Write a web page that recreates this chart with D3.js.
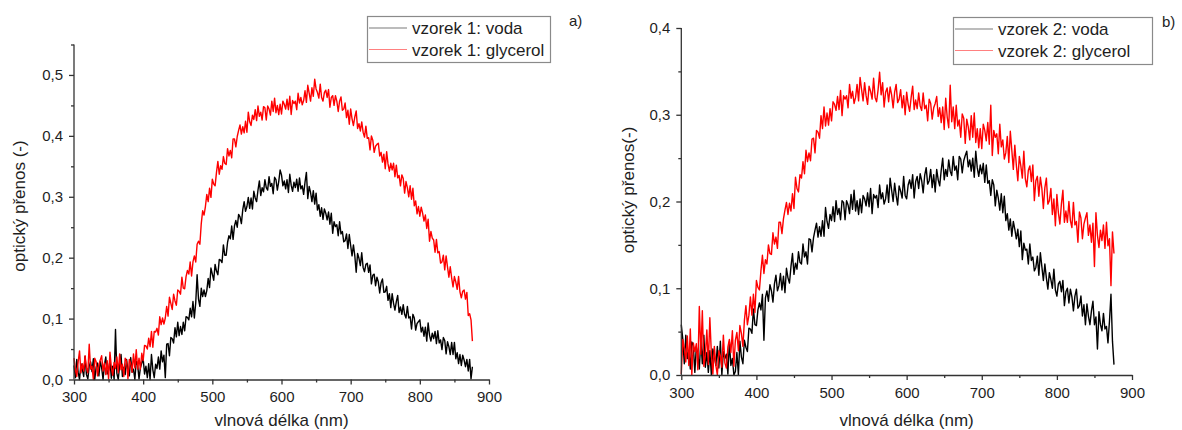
<!DOCTYPE html>
<html><head><meta charset="utf-8">
<script src="https://cdn.jsdelivr.net/npm/d3@7"></script>
<style>
body{margin:0;background:#fff}
svg{display:block}
text{font-family:"Liberation Sans",Arial,sans-serif;fill:#1e1e1e}
</style>
</head><body>
<svg id="chart" width="1182" height="430"></svg>
<script>
// sampling grid of the spectra (nm), 2 nm steps
const wavelength = d3.range(300, 877, 2);

const sample1Water = [
.023,.003,.033,.012,.000,.026,.017,.005,.038,.008,
.001,.022,.029,.013,.034,.000,.020,.027,.006,.030,
.019,.000,.024,.037,.009,.015,.031,.002,.022,.000,
.082,.010,.000,.023,.041,.005,.020,.008,.033,.013,
.006,.036,.012,.017,.000,.030,.024,.001,.019,.027,
.034,.009,.022,.003,.026,.000,.041,.016,.003,.025,
.018,.037,.017,.047,.029,.040,.003,.058,.059,.039,
.069,.067,.060,.085,.070,.094,.072,.087,.074,.094,
.080,.103,.102,.098,.117,.103,.128,.101,.126,.172,
.132,.120,.150,.136,.147,.136,.146,.166,.151,.183,
.173,.163,.189,.178,.172,.197,.196,.192,.221,.204,
.204,.225,.236,.231,.252,.230,.252,.261,.250,.271,
.267,.256,.279,.292,.276,.284,.299,.281,.298,.280,
.309,.298,.292,.311,.326,.302,.315,.308,.328,.315,
.311,.333,.317,.322,.305,.332,.328,.311,.325,.344,
.336,.318,.326,.313,.328,.307,.337,.319,.309,.324,
.315,.329,.309,.331,.313,.318,.304,.324,.340,.297,
.317,.307,.292,.310,.288,.306,.278,.287,.268,.282,
.263,.280,.273,.262,.275,.255,.273,.240,.259,.251,
.254,.236,.259,.239,.243,.226,.228,.239,.215,.238,
.220,.203,.221,.203,.176,.207,.199,.187,.208,.184,
.177,.189,.191,.176,.188,.157,.171,.173,.154,.168,
.160,.142,.159,.165,.143,.144,.153,.130,.141,.118,
.141,.125,.114,.128,.138,.110,.119,.107,.123,.107,
.101,.120,.101,.103,.083,.107,.101,.081,.092,.095,
.098,.078,.086,.071,.086,.063,.093,.073,.063,.076,
.067,.079,.059,.080,.060,.065,.049,.069,.064,.042,
.062,.054,.041,.061,.041,.061,.034,.044,.026,.041,
.023,.040,.032,.021,.033,.014,.033,.001,.021];

const sample1Glycerol = [
.035,.016,.005,.029,.047,.011,.026,.014,.039,.019,
.011,.058,.017,.022,.000,.035,.029,.006,.024,.032,
.039,.014,.027,.008,.031,.001,.045,.020,.007,.028,
.018,.037,.011,.042,.016,.025,.005,.035,.030,.001,
.033,.026,.012,.042,.019,.049,.017,.035,.017,.043,
.031,.056,.055,.050,.068,.054,.079,.053,.079,.078,
.084,.073,.103,.090,.101,.091,.101,.120,.104,.135,
.125,.115,.140,.129,.122,.147,.145,.140,.168,.150,
.149,.169,.179,.173,.193,.170,.193,.203,.193,.222,
.227,.222,.256,.277,.270,.284,.304,.292,.314,.299,
.329,.321,.318,.340,.358,.337,.351,.345,.366,.355,
.353,.379,.367,.376,.364,.395,.395,.382,.399,.409,
.418,.403,.415,.405,.424,.406,.439,.423,.417,.434,
.427,.443,.425,.449,.432,.439,.426,.448,.446,.426,
.449,.444,.434,.457,.440,.462,.438,.450,.435,.452,
.436,.457,.452,.444,.460,.443,.465,.435,.458,.453,
.457,.443,.470,.454,.463,.451,.458,.474,.455,.483,
.470,.457,.479,.465,.493,.477,.471,.462,.485,.463,
.457,.471,.475,.463,.476,.447,.463,.466,.450,.466,
.457,.440,.457,.464,.442,.444,.454,.430,.442,.419,
.444,.428,.417,.431,.441,.412,.420,.408,.423,.406,
.398,.416,.396,.397,.377,.400,.393,.373,.383,.386,
.388,.367,.373,.357,.370,.346,.374,.354,.342,.355,
.344,.355,.333,.352,.331,.335,.318,.336,.330,.306,
.325,.315,.300,.318,.296,.314,.285,.293,.272,.284,
.268,.283,.273,.260,.270,.248,.263,.227,.243,.232,
.229,.209,.230,.208,.210,.191,.193,.204,.180,.203,
.185,.168,.185,.167,.152,.169,.160,.148,.169,.144,
.134,.145,.147,.132,.143,.105,.108,.098,.063];

const sample2Water = [
.058,.041,.013,.046,.019,.028,.007,.038,.034,.003,
.032,.024,.007,.040,.013,.046,.009,.026,.003,.028,
.000,.030,.022,.011,.033,.008,.039,.000,.027,.019,
.024,.001,.038,.011,.019,.000,.004,.026,.000,.039,
.021,.013,.040,.032,.027,.054,.053,.048,.076,.058,
.057,.075,.083,.075,.093,.040,.089,.097,.085,.104,
.097,.084,.105,.115,.097,.103,.117,.098,.114,.095,
.123,.112,.106,.125,.140,.116,.129,.122,.142,.130,
.128,.151,.136,.142,.128,.157,.156,.142,.158,.167,
.175,.159,.171,.160,.178,.160,.193,.177,.169,.185,
.178,.194,.177,.201,.185,.192,.179,.201,.199,.179,
.201,.196,.186,.208,.191,.213,.189,.201,.185,.203,
.187,.207,.203,.195,.210,.194,.215,.186,.208,.204,
.207,.193,.219,.203,.210,.197,.203,.219,.199,.227,
.213,.200,.221,.207,.196,.218,.212,.204,.229,.207,
.203,.219,.225,.215,.231,.204,.223,.229,.215,.232,
.224,.210,.230,.239,.220,.224,.237,.216,.231,.211,
.237,.225,.218,.236,.250,.225,.237,.229,.248,.235,
.230,.252,.236,.241,.225,.252,.249,.233,.247,.253,
.258,.240,.248,.235,.250,.228,.258,.239,.229,.242,
.232,.244,.222,.242,.221,.224,.207,.225,.219,.195,
.213,.204,.190,.209,.187,.206,.178,.186,.167,.180,
.160,.177,.168,.157,.168,.148,.166,.133,.152,.144,
.145,.128,.151,.132,.136,.120,.124,.137,.115,.141,
.125,.109,.128,.112,.099,.118,.110,.100,.122,.098,
.091,.105,.108,.096,.109,.080,.096,.100,.083,.099,
.090,.074,.091,.099,.077,.080,.091,.068,.081,.058,
.082,.068,.058,.074,.085,.058,.067,.030,.073,.058,
.051,.071,.053,.056,.037,.062,.093,.039,.012];

const sample2Glycerol = [
.001,.041,.031,.015,.045,.011,.053,.000,.037,.027,
.036,.006,.079,.024,.074,.010,.022,.052,.012,.066,
.025,.001,.033,.011,.000,.028,.022,.009,.046,.014,
.008,.032,.041,.026,.051,.010,.040,.049,.028,.057,
.048,.033,.063,.080,.058,.069,.090,.069,.093,.072,
.109,.101,.098,.120,.138,.117,.133,.128,.150,.140,
.139,.164,.151,.159,.146,.176,.176,.163,.180,.190,
.199,.185,.198,.189,.209,.192,.228,.215,.211,.231,
.227,.246,.232,.259,.246,.256,.247,.272,.273,.256,
.282,.280,.273,.299,.284,.309,.287,.302,.288,.307,
.293,.315,.312,.305,.321,.306,.328,.299,.322,.318,
.322,.308,.335,.319,.327,.313,.320,.335,.316,.343,
.329,.316,.337,.322,.312,.333,.327,.318,.342,.320,
.315,.329,.349,.323,.337,.309,.326,.331,.315,.332,
.323,.308,.326,.335,.314,.318,.329,.308,.322,.300,
.326,.312,.304,.320,.333,.306,.317,.307,.325,.310,
.305,.325,.307,.311,.293,.318,.313,.295,.308,.313,
.321,.298,.308,.291,.309,.283,.319,.297,.285,.334,
.292,.309,.284,.311,.287,.294,.274,.301,.296,.267,
.295,.286,.271,.299,.274,.302,.268,.284,.262,.284,
.261,.289,.282,.270,.291,.266,.311,.253,.282,.274,
.278,.255,.289,.263,.271,.249,.256,.275,.245,.281,
.259,.237,.265,.242,.224,.252,.241,.227,.258,.226,
.217,.236,.241,.223,.242,.201,.224,.229,.206,.228,
.215,.192,.216,.227,.197,.201,.215,.185,.203,.172,
.208,.187,.174,.197,.213,.176,.189,.176,.200,.178,
.170,.199,.173,.177,.153,.188,.181,.157,.174,.181,
.187,.161,.173,.153,.175,.125,.187,.161,.147,.167,
.155,.173,.146,.176,.149,.157,.103,.165,.140];

const xTickValues = [300, 400, 500, 600, 700, 800, 900];
const yTicksPanelA = [0, 0.1, 0.2, 0.3, 0.4, 0.5];
const yTicksPanelB = [0, 0.1, 0.2, 0.3, 0.4];
const seriesNamesA = ["vzorek 1: voda", "vzorek 1: glycerol"];
const seriesNamesB = ["vzorek 2: voda", "vzorek 2: glycerol"];
const seriesColors = ["#000000", "#ff0000"];
const legendLineColors = ["#7a7a7a", "#ff8080"];

const svg = d3.select("#chart");
const fmtY = v => d3.format(".1f")(v).replace(".", ",");

const panels = [
  {series:[sample1Water, sample1Glycerol], names:seriesNamesA, yTicks:yTicksPanelA, yMax:0.55,
   xr:[74, 489], yr:[379.5, 44.5], yLabel:"optický přenos (-)", yLabelPos:[25, 206],
   legend:{x:367, y:16, w:183, h:46}, tag:{x:569, y:26, t:"a)"}},
  {series:[sample2Water, sample2Glycerol], names:seriesNamesB, yTicks:yTicksPanelB, yMax:0.4,
   xr:[681.3, 1132], yr:[375, 28], yLabel:"optický přenos(-)", yLabelPos:[634, 190],
   legend:{x:953, y:17, w:199, h:47}, tag:{x:1162, y:27, t:"b)"}}
];

panels.forEach(p => {
  const x = d3.scaleLinear().domain([300, 900]).range(p.xr);
  const y = d3.scaleLinear().domain([0, p.yMax]).range(p.yr);
  const g = svg.append("g");

  // data lines
  const line = d3.line().x((d, i) => x(wavelength[i])).y(d => y(d));
  p.series.forEach((s, k) => {
    g.append("path").datum(s).attr("d", line)
      .attr("fill", "none").attr("stroke", seriesColors[k])
      .attr("stroke-width", 1.4).attr("stroke-linejoin", "round");
  });

  // minor ticks
  const minorX = d3.range(350, 900, 100);
  const minorY = d3.range(0.05, p.yMax + 0.001, 0.1).filter(v => v <= p.yMax);
  g.append("g").attr("transform", `translate(0,${p.yr[0]})`)
    .call(d3.axisBottom(x).tickValues(minorX).tickSize(3).tickFormat("").tickSizeOuter(0))
    .call(a => a.select(".domain").remove());
  g.append("g").attr("transform", `translate(${p.xr[0]},0)`)
    .call(d3.axisLeft(y).tickValues(minorY).tickSize(3).tickFormat("").tickSizeOuter(0))
    .call(a => a.select(".domain").remove());

  // major axes
  const ax = g.append("g").attr("transform", `translate(0,${p.yr[0]})`)
    .call(d3.axisBottom(x).tickValues(xTickValues).tickSize(5).tickPadding(7).tickSizeOuter(0));
  const ay = g.append("g").attr("transform", `translate(${p.xr[0]},0)`)
    .call(d3.axisLeft(y).tickValues(p.yTicks).tickFormat(fmtY).tickSize(5).tickPadding(6).tickSizeOuter(0));
  ay.select(".domain").attr("d", `M0,${y(0)}V${y(p.yMax)}`);
  [ax, ay].forEach(a => {
    a.selectAll("text").attr("font-size", 15).attr("font-family", '"Liberation Sans",Arial,sans-serif').attr("fill", "#1e1e1e");
  });
  g.selectAll(".domain, .tick line").attr("stroke", "#333").attr("stroke-width", 1.3);

  // axis titles
  g.append("text").attr("x", x(600)).attr("y", 426).attr("text-anchor", "middle")
    .attr("font-size", 17).text("vlnová délka (nm)");
  g.append("text").attr("transform", `translate(${p.yLabelPos[0]},${p.yLabelPos[1]}) rotate(-90)`)
    .attr("text-anchor", "middle").attr("font-size", 17).text(p.yLabel);

  // legend
  const L = p.legend;
  g.append("rect").attr("x", L.x + 0.5).attr("y", L.y + 0.5).attr("width", L.w).attr("height", L.h)
    .attr("fill", "#fff").attr("stroke", "#8a8a8a").attr("stroke-width", 1.2);
  p.names.forEach((n, k) => {
    const cy = L.y + 12 + k * 21.5;
    g.append("line").attr("x1", L.x + 2).attr("x2", L.x + 40).attr("y1", cy).attr("y2", cy)
      .attr("stroke", legendLineColors[k]).attr("stroke-width", 1.2);
    g.append("text").attr("x", L.x + 45).attr("y", cy + 6).attr("font-size", 17).text(n);
  });
  g.append("text").attr("x", p.tag.x).attr("y", p.tag.y).attr("font-size", 15).text(p.tag.t);
});
</script>
</body></html>
